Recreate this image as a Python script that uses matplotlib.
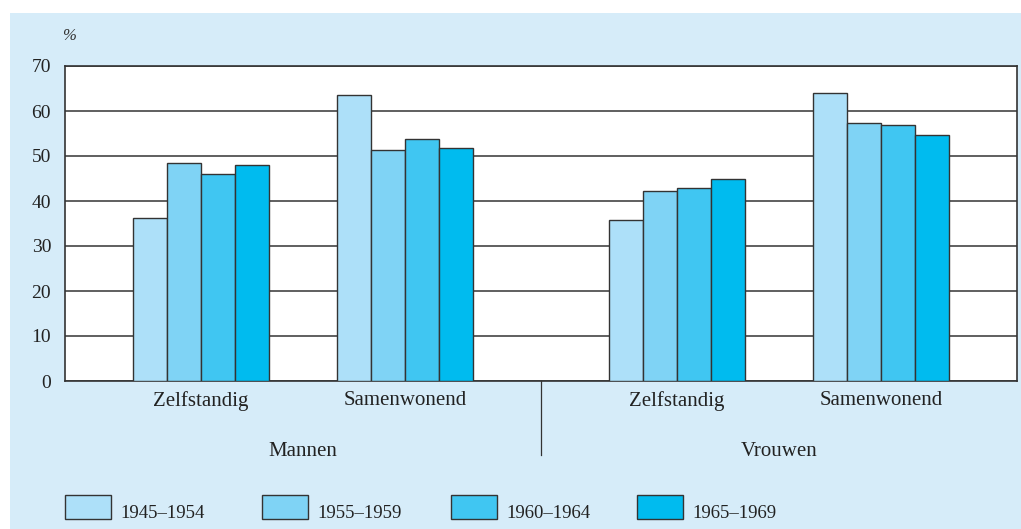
import matplotlib
matplotlib.use("Agg")
import matplotlib.pyplot as plt
from matplotlib.patches import Rectangle
import matplotlib.transforms as mtransforms

# ---- data ----
groups = ["Mannen", "Vrouwen"]
categories = ["Zelfstandig", "Samenwonend", "Zelfstandig", "Samenwonend"]
series_labels = ["1945\u20131954", "1955\u20131959", "1960\u20131964", "1965\u20131969"]
v_1945_1954 = [36.3, 63.6, 35.8, 63.9]
v_1955_1959 = [48.4, 51.3, 42.3, 57.4]
v_1960_1964 = [45.9, 53.8, 42.8, 57.0]
v_1965_1969 = [48.0, 51.7, 45.0, 54.6]
series_values = [v_1945_1954, v_1955_1959, v_1960_1964, v_1965_1969]
yticks = [0, 10, 20, 30, 40, 50, 60, 70]

colors = ["#ADE0F9", "#7FD3F5", "#40C6F2", "#00BBEF"]
bg = "#D6ECF9"
edge = "#333333"
font = "Liberation Serif"
plt.rcParams["font.family"] = [font, "DejaVu Serif"]

W, H = 1021, 529
fig = plt.figure(figsize=(W / 100, H / 100), dpi=100, facecolor="white")
# light blue panel
fig.patches.append(Rectangle((10 / W, 0), 1.0, (H - 13) / H, transform=fig.transFigure,
                             facecolor=bg, edgecolor="none", zorder=-10))

ax = fig.add_axes([65 / W, (H - 381) / H, (1017 - 65) / W, 315 / H])
ax.set_facecolor("white")

centers = [0, 1, 7 / 3, 10 / 3]
bw = 1 / 6
for i, vals in enumerate(series_values):
    xs = [c + (i - 1.5) * bw for c in centers]
    ax.bar(xs, vals, width=bw, color=colors[i], edgecolor=edge, linewidth=1.0, zorder=3)

ax.set_xlim(-2 / 3, 4)
ax.set_ylim(0, 70)
ax.set_yticks(yticks)
ax.set_yticklabels([str(t) for t in yticks], fontsize=14, color="#222222")
ax.yaxis.grid(True, color="#444444", linewidth=1.2, zorder=0)
ax.set_axisbelow(True)
ax.tick_params(axis="y", length=0, pad=10)
ax.set_xticks(centers)
ax.set_xticklabels(categories, fontsize=15, color="#222222")
ax.tick_params(axis="x", length=0, pad=7)
for s in ax.spines.values():
    s.set_color(edge)
    s.set_linewidth(1.2)

# divider between groups
trans = mtransforms.blended_transform_factory(ax.transData, ax.transAxes)
mid = (centers[1] + centers[2]) / 2
ax.plot([mid, mid], [0, -74 / 315], transform=trans, color="#333333", linewidth=0.9, clip_on=False)
# group labels
ax.text((centers[0] + centers[1]) / 2, -70 / 315, groups[0], transform=trans, ha="center", va="center",
        fontsize=15, color="#222222")
ax.text((centers[2] + centers[3]) / 2, -70 / 315, groups[1], transform=trans, ha="center", va="center",
        fontsize=15, color="#222222")

# % label
fig.text(62 / W, (H - 36) / H, "%", fontsize=12, color="#333333", ha="left", va="center", style="italic")

# legend
box_x = [65, 262, 451, 637]
for i, lab in enumerate(series_labels):
    fig.patches.append(Rectangle((box_x[i] / W, (H - 519) / H), 46 / W, 24 / H, transform=fig.transFigure,
                                 facecolor=colors[i], edgecolor=edge, linewidth=1.0))
    fig.text((box_x[i] + 55) / W, (H - 513) / H, lab, fontsize=13.5, color="#222222", ha="left", va="center")

fig.savefig("out.png", dpi=100, facecolor=fig.get_facecolor())
